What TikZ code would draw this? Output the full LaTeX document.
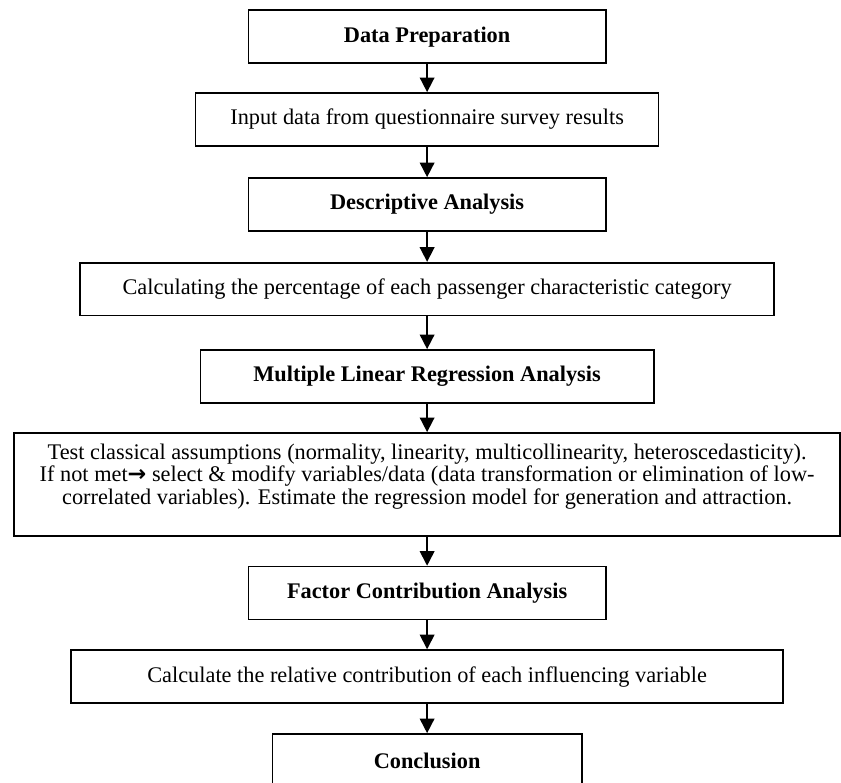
\documentclass[tikz,border=0pt]{standalone}
\usepackage{fontspec}
\setmainfont{Liberation Serif}
\newfontfamily\arrowfont{DejaVu Sans}
\usetikzlibrary{arrows.meta}

\begin{document}
\begin{tikzpicture}
	[
	align=center,
	font=\fontsize{16.8}{17}\selectfont,
	box/.style={draw, line width=1.3pt, inner sep=0pt, minimum height=1.40cm},
	head/.style={box, minimum width=9.45cm, font=\fontsize{16.8}{17}\selectfont\bfseries},
	arrow/.style={line width=1.3pt, -{Triangle[length=11pt, width=11pt]}},
	]
		\useasboundingbox (0,0) rectangle (22.25,-20.69);
		\clip (0,0) rectangle (22.25,-20.69);
		
		% stages
		\node[head] (prep) at 		(11.30,  -0.97 ) {Data Preparation};
		\node[head] (desc) at 		(11.30,  -5.41 ) {Descriptive Analysis};
		\node[head, minimum width=11.99cm] (mlr) at 	(11.30,  -9.96 ) {Multiple Linear Regression Analysis};
		\node[head] (fca) at 		(11.30, -15.69 ) {Factor Contribution Analysis};
		\node[head, minimum width=8.18cm] (concl) at 	(11.30, -20.12 ) {Conclusion};
		
		% steps
		\node[box, minimum width=12.25cm] (input) at 	(11.30,  -3.16 ) {Input data from questionnaire survey results};
		\node[box, minimum width=18.36cm] (pct) at 	(11.30,  -7.65 ) {Calculating the percentage of each passenger characteristic category};
		\node[box, minimum width=21.85cm, minimum height=2.73cm] (test) at (11.30, -12.82 )
			{Test classical assumptions (normality, linearity, multicollinearity, heteroscedasticity).\\
			If not met{\arrowfont\bfseries →} select \& modify variables/data (data transformation or elimination of low-\\
			correlated variables). Estimate the regression model for generation and attraction.\\[-6pt] \strut};
		\node[box, minimum width=18.84cm] (contrib) at 	(11.30, -17.90 ) {Calculate the relative contribution of each influencing variable};
		
		\foreach \from/\to in {prep/input,input/desc,desc/pct,pct/mlr,mlr/test,test/fca,fca/contrib,contrib/concl} \draw[arrow] (\from) -- (\to);
		
	\end{tikzpicture}
\end{document}
